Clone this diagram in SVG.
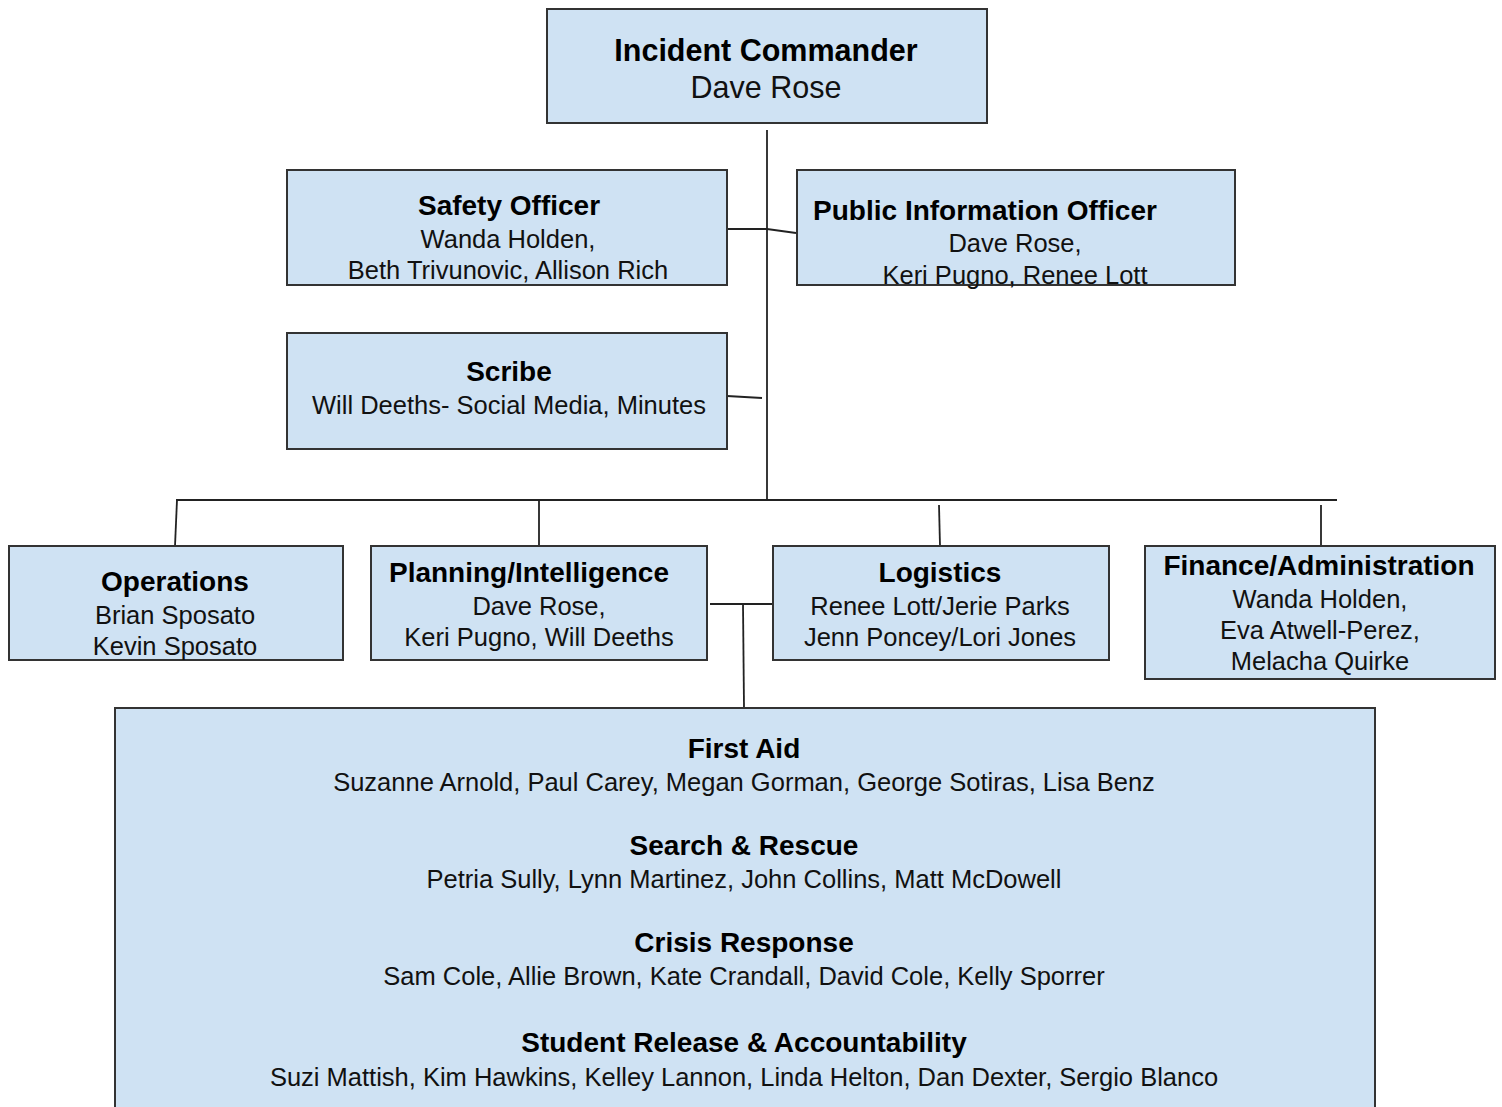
<svg xmlns="http://www.w3.org/2000/svg" width="1502" height="1107" viewBox="0 0 1502 1107">
<style>
.box{fill:#cfe2f3;stroke:#333;stroke-width:2}
.t{font-family:"Liberation Sans",Arial,sans-serif;font-weight:bold;font-size:28px;fill:#000;text-anchor:middle}
.s{font-family:"Liberation Sans",Arial,sans-serif;font-size:25.5px;fill:#111;text-anchor:middle}
.ic{font-size:30.5px}
.c{fill:none;stroke:#222;stroke-width:1.8}
</style>
<rect width="1502" height="1107" fill="#fff"/>
<g id="connectors">
<line class="c" x1="767" y1="130" x2="767" y2="500"/>
<polyline class="c" points="727,229 767,229 796,233"/>
<polyline class="c" points="727,396 762,398"/>
<line class="c" x1="176" y1="500" x2="1337" y2="500"/>
<line class="c" x1="177" y1="500" x2="175" y2="546"/>
<line class="c" x1="539" y1="500" x2="539" y2="546"/>
<line class="c" x1="939" y1="505" x2="940" y2="546"/>
<line class="c" x1="1321" y1="505" x2="1321" y2="546"/>
<line class="c" x1="710" y1="604" x2="776" y2="604"/>
<line class="c" x1="743" y1="604" x2="744" y2="708"/>
</g>
<g id="incident-commander">
<rect class="box" x="547" y="9" width="440" height="114"/>
<text class="t ic" x="766" y="61">Incident Commander</text>
<text class="s ic" x="766" y="98">Dave Rose</text>
</g>
<g id="safety-officer">
<rect class="box" x="287" y="170" width="440" height="115"/>
<text class="t" x="509" y="215">Safety Officer</text>
<text class="s" x="508" y="248">Wanda Holden,</text>
<text class="s" x="508" y="279">Beth Trivunovic, Allison Rich</text>
</g>
<g id="public-information-officer">
<rect class="box" x="797" y="170" width="438" height="115"/>
<text class="t" x="985" y="220">Public Information Officer</text>
<text class="s" x="1015" y="252">Dave Rose,</text>
<text class="s" x="1015" y="284">Keri Pugno, Renee Lott</text>
</g>
<g id="scribe">
<rect class="box" x="287" y="333" width="440" height="116"/>
<text class="t" x="509" y="381">Scribe</text>
<text class="s" x="509" y="414">Will Deeths- Social Media, Minutes</text>
</g>
<g id="operations">
<rect class="box" x="9" y="546" width="334" height="114"/>
<text class="t" x="175" y="591">Operations</text>
<text class="s" x="175" y="624">Brian Sposato</text>
<text class="s" x="175" y="655">Kevin Sposato</text>
</g>
<g id="planning-intelligence">
<rect class="box" x="371" y="546" width="336" height="114"/>
<text class="t" x="529" y="582">Planning/Intelligence</text>
<text class="s" x="539" y="615">Dave Rose,</text>
<text class="s" x="539" y="646">Keri Pugno, Will Deeths</text>
</g>
<g id="logistics">
<rect class="box" x="773" y="546" width="336" height="114"/>
<text class="t" x="940" y="582">Logistics</text>
<text class="s" x="940" y="615">Renee Lott/Jerie Parks</text>
<text class="s" x="940" y="646">Jenn Poncey/Lori Jones</text>
</g>
<g id="finance-administration">
<rect class="box" x="1145" y="546" width="350" height="133"/>
<text class="t" x="1319" y="575">Finance/Administration</text>
<text class="s" x="1320" y="608">Wanda Holden,</text>
<text class="s" x="1320" y="639">Eva Atwell-Perez,</text>
<text class="s" x="1320" y="670">Melacha Quirke</text>
</g>
<g id="teams">
<rect class="box" x="115" y="708" width="1260" height="420"/>
<text class="t" x="744" y="758">First Aid</text>
<text class="s" x="744" y="791">Suzanne Arnold, Paul Carey, Megan Gorman, George Sotiras, Lisa Benz</text>
<text class="t" x="744" y="855">Search &amp; Rescue</text>
<text class="s" x="744" y="888">Petria Sully, Lynn Martinez, John Collins, Matt McDowell</text>
<text class="t" x="744" y="952">Crisis Response</text>
<text class="s" x="744" y="985">Sam Cole, Allie Brown, Kate Crandall, David Cole, Kelly Sporrer</text>
<text class="t" x="744" y="1052">Student Release &amp; Accountability</text>
<text class="s" x="744" y="1086">Suzi Mattish, Kim Hawkins, Kelley Lannon, Linda Helton, Dan Dexter, Sergio Blanco</text>
</g>
</svg>
